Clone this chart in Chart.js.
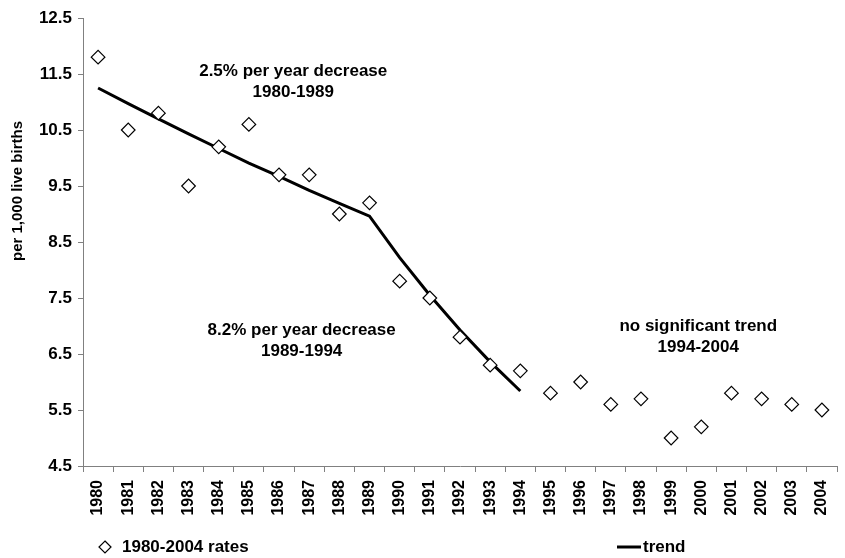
<!DOCTYPE html>
<html>
<head>
<meta charset="utf-8">
<script src="https://cdn.jsdelivr.net/npm/chart.js@4/dist/chart.umd.min.js"></script>
<style>
html,body{margin:0;padding:0;background:#fff;}
#wrap{width:845px;height:558px;}
</style>
</head>
<body>
<div id="wrap"><canvas id="c" width="845" height="558"></canvas></div>
<script>
const years = ['1980','1981','1982','1983','1984','1985','1986','1987','1988','1989','1990','1991','1992','1993','1994','1995','1996','1997','1998','1999','2000','2001','2002','2003','2004'];
const rates = [11.8,10.5,10.8,9.5,10.2,10.6,9.7,9.7,9.0,9.2,7.8,7.5,6.8,6.3,6.2,5.8,6.0,5.6,5.7,5.0,5.2,5.8,5.7,5.6,5.5];
const trend = [11.25,10.97,10.70,10.43,10.17,9.91,9.67,9.42,9.19,8.96,8.22,7.55,6.93,6.36,5.84,null,null,null,null,null,null,null,null,null,null];
const yTicks = [4.5,5.5,6.5,7.5,8.5,9.5,10.5,11.5,12.5];
const seriesNames = ['1980-2004 rates','trend'];
const yTitle = 'per 1,000 live births';
const notes = [
  ['2.5% per year decrease','1980-1989'],
  ['8.2% per year decrease','1989-1994'],
  ['no significant trend','1994-2004']
];

const FONT = '"Liberation Sans", Arial, sans-serif';
const GRAY = '#808080';

const extras = {
  id:'extras',
  afterDraw(chart){
    const ctx = chart.ctx;
    const xs = chart.scales.x, ys = chart.scales.y;
    ctx.save();
    ctx.fillStyle = '#000';
    ctx.font = 'bold 17px ' + FONT;
    ctx.textAlign = 'center';
    ctx.textBaseline = 'middle';
    const anchors = [[6.47, 11.55],[6.75, 6.93],[19.9, 7.0]];
    notes.forEach((lines, i) => {
      const px = xs.getPixelForValue(anchors[i][0]);
      const py = ys.getPixelForValue(anchors[i][1]);
      lines.forEach((t, j) => ctx.fillText(t, px, py + j * 21));
    });
    // y title
    ctx.save();
    ctx.translate(18, 191);
    ctx.rotate(-Math.PI / 2);
    ctx.font = 'bold 15px ' + FONT;
    ctx.fillText(yTitle, 0, 0);
    ctx.restore();
    // legend
    ctx.font = 'bold 17px ' + FONT;
    ctx.textAlign = 'left';
    const ly = 547;
    ctx.beginPath();
    ctx.moveTo(105, ly - 6); ctx.lineTo(111, ly); ctx.lineTo(105, ly + 6); ctx.lineTo(99, ly); ctx.closePath();
    ctx.fillStyle = '#fff'; ctx.fill();
    ctx.strokeStyle = '#000'; ctx.lineWidth = 1.2; ctx.stroke();
    ctx.fillStyle = '#000';
    ctx.fillText(seriesNames[0], 122, ly);
    ctx.beginPath();
    ctx.moveTo(617, ly); ctx.lineTo(641, ly);
    ctx.lineWidth = 3; ctx.stroke();
    ctx.fillText(seriesNames[1], 643, ly);
    ctx.restore();
  }
};

new Chart(document.getElementById('c'), {
  type:'line',
  data:{
    labels: years,
    datasets:[
      {label: seriesNames[0], data: rates, showLine:false, pointStyle:'rectRot', pointRadius:6.8, pointHoverRadius:6.8,
       pointBackgroundColor:'#fff', pointBorderColor:'#000', pointBorderWidth:1.2},
      {label: seriesNames[1], data: trend, borderColor:'#000', borderWidth:3, pointRadius:0, tension:0, spanGaps:false, fill:false}
    ]
  },
  options:{
    responsive:false,
    animation:false,
    layout:{padding:{left:0, right:7, top:18, bottom:36}},
    plugins:{legend:{display:false}, tooltip:{enabled:false}},
    scales:{
      x:{
        type:'category',
        offset:true,
        grid:{offset:true, drawOnChartArea:false, tickLength:6, color:GRAY},
        border:{color:GRAY, width:1},
        ticks:{maxRotation:90, minRotation:90, autoSkip:false, color:'#000', font:{family:FONT, size:16, weight:'bold'}, padding:8},
        afterFit(s){ s.height = 56; s.paddingRight = 0; s.paddingLeft = 0; }
      },
      y:{
        min:4.5, max:12.5,
        afterBuildTicks(s){ s.ticks = yTicks.map(v => ({value:v})); },
        grid:{drawOnChartArea:false, tickLength:5, color:GRAY},
        border:{color:GRAY, width:1},
        ticks:{color:'#000', font:{family:FONT, size:17, weight:'bold'}, padding:6, callback:(v)=>v.toFixed(1)},
        afterFit(s){ s.width = 83; }
      }
    }
  },
  plugins:[extras]
});
</script>
</body>
</html>
